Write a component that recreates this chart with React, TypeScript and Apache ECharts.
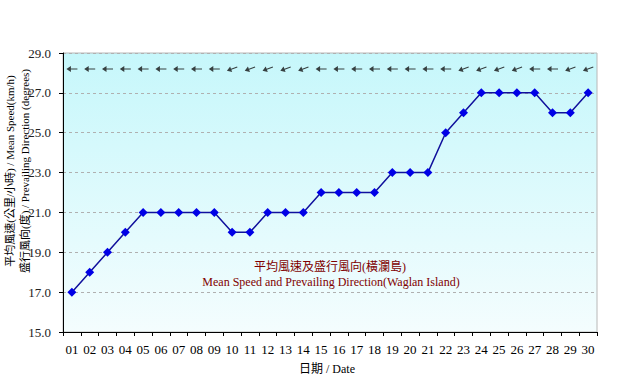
import React, { useEffect, useRef } from "react";
import * as echarts from "echarts";

const days = ["01","02","03","04","05","06","07","08","09","10","11","12","13","14","15","16","17","18","19","20","21","22","23","24","25","26","27","28","29","30"];
const meanSpeed = [17,18,19,20,21,21,21,21,21,20,20,21,21,21,22,22,22,22,23,23,23,25,26,27,27,27,27,26,26,27];
const directionDeg = [90,90,90,90,90,90,90,90,90,70,70,70,70,70,90,90,90,90,90,90,90,90,70,70,70,70,90,90,70,70];
const yMin = 15;
const yMax = 29;
const yStep = 2;
const arrowLevel = 28.2;

const titleZh = "平均風速及盛行風向(橫瀾島)";
const titleEn = "Mean Speed and Prevailing Direction(Waglan Island)";
const yName1 = "平均風速(公里/小時) / Mean Speed(km/h)";
const yName2 = "盛行風向(度) / Prevailing Direction (degrees)";
const xName = "日期 / Date";

const SERIF = "'Liberation Serif', 'Noto Sans CJK TC', serif";

export default function App() {
  const ref = useRef<HTMLDivElement>(null);
  useEffect(() => {
    document.body.style.margin = "0";
    const chart = echarts.init(ref.current!, null, { renderer: "svg" });
    const arrowPath = "path://M0,3 L4.5,0 L4.5,2.5 L11,2.5 L11,3.5 L4.5,3.5 L4.5,6 Z";
    chart.setOption({
      animation: false,
      grid: {
        left: 63, right: 32, top: 53, bottom: 53,
        show: true,
        borderColor: "#b8b8b8",
        borderWidth: 1,
        backgroundColor: new echarts.graphic.LinearGradient(0, 0, 0, 1, [
          { offset: 0, color: "#c6f7fb" },
          { offset: 1, color: "#f4fdfe" },
        ]),
      },
      xAxis: {
        type: "category",
        data: days,
        boundaryGap: true,
        axisLine: { show: true, lineStyle: { color: "#000", width: 1 } },
        axisTick: { show: true, interval: 0, length: 4, lineStyle: { color: "#000" } },
        axisLabel: { interval: 0, margin: 11, fontSize: 13, color: "#000", fontFamily: SERIF },
        splitLine: { show: false },
      },
      yAxis: {
        type: "value",
        min: yMin,
        max: yMax,
        interval: yStep,
        axisLine: { show: true, lineStyle: { color: "#000", width: 1 } },
        axisTick: { show: true, length: 4, lineStyle: { color: "#000" } },
        axisLabel: {
          margin: 12, fontSize: 13, color: "#222", fontFamily: SERIF,
          formatter: (v: number) => v.toFixed(1),
        },
        splitLine: { show: true, lineStyle: { color: "#b0b0b0", type: [3, 3], width: 1 } },
      },
      series: [
        {
          type: "line",
          data: meanSpeed,
          symbol: "diamond",
          symbolSize: 9,
          lineStyle: { color: "#10109c", width: 1.5 },
          itemStyle: { color: "#0000e6" },
          z: 3,
        },
        {
          type: "scatter",
          data: directionDeg.map((d, i) => ({
            value: [i, arrowLevel],
            symbolRotate: 90 - d,
          })),
          symbol: arrowPath,
          symbolSize: [11, 6],
          symbolKeepAspect: false,
          itemStyle: { color: "#111" },
          z: 2,
        },
      ],
      graphic: [
        {
          type: "text", x: 10, y: 171, rotation: Math.PI / 2,
          style: { text: yName1, fontSize: 11, fontFamily: SERIF, fill: "#000", align: "center", verticalAlign: "middle" },
        },
        {
          type: "text", x: 25, y: 171, rotation: Math.PI / 2,
          style: { text: yName2, fontSize: 11, fontFamily: SERIF, fill: "#000", align: "center", verticalAlign: "middle" },
        },
        {
          type: "text", x: 330, y: 267,
          style: { text: titleZh, fontSize: 12, fontFamily: SERIF, fill: "#800000", align: "center", verticalAlign: "middle" },
        },
        {
          type: "text", x: 331, y: 282,
          style: { text: titleEn, fontSize: 12, fontFamily: SERIF, fill: "#800000", align: "center", verticalAlign: "middle" },
        },
        {
          type: "text", x: 327, y: 369,
          style: { text: xName, fontSize: 12, fontFamily: SERIF, fill: "#000", align: "center", verticalAlign: "middle" },
        },
      ],
    });
    return () => chart.dispose();
  }, []);
  return <div ref={ref} style={{ width: 629, height: 385 }} />;
}
